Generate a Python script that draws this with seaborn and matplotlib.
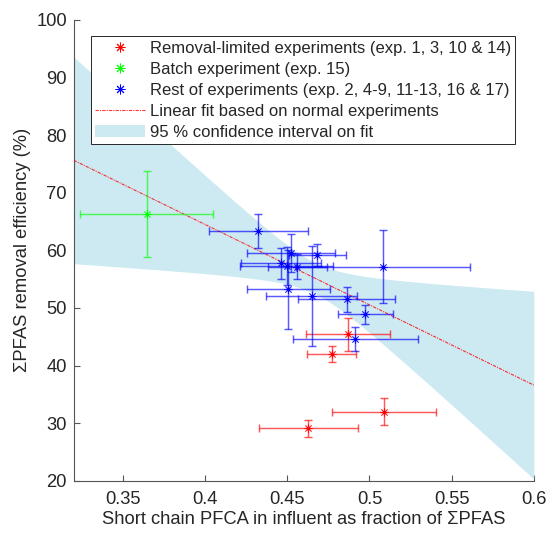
import numpy as np
import pandas as pd
import seaborn as sns
import matplotlib
matplotlib.use("Agg")
import matplotlib.pyplot as plt
from matplotlib.lines import Line2D
from matplotlib.patches import Patch

# Removal-limited experiments (exp. 1, 3, 10 & 14)
red_x = [0.4868, 0.4770, 0.5090, 0.4628]
red_y = [45.42, 41.95, 31.99, 29.10]
red_xerr = [0.0257, 0.0148, 0.0317, 0.0302]
red_yerr = [2.92, 1.36, 2.32, 1.45]

# Batch experiment (exp. 15)
green_x = [0.3644]
green_y = [66.31]
green_xerr = [0.0403]
green_yerr = [7.4]

# Rest of experiments (exp. 2, 4-9, 11-13, 16 & 17)
blue_x = [0.4324, 0.4523, 0.4683, 0.4462, 0.4496, 0.4561,
          0.4506, 0.4649, 0.4862, 0.5081, 0.4975, 0.4914]
blue_y = [63.36, 59.49, 59.19, 57.75, 57.34, 57.17,
          53.24, 52.07, 51.50, 57.17, 48.89, 44.61]
blue_xerr = [0.030, 0.027, 0.0175, 0.0245, 0.0284, 0.018,
             0.0254, 0.0277, 0.0294, 0.0528, 0.0167, 0.038]
blue_yerr = [3.0, 3.3, 1.9, 2.7, 3.3, 2.2,
             6.9, 8.7, 2.2, 6.3, 1.7, 2.0]

legend_labels = [
    "Removal-limited experiments (exp. 1, 3, 10 & 14)",
    "Batch experiment (exp. 15)",
    "Rest of experiments (exp. 2, 4-9, 11-13, 16 & 17)",
    "Linear fit based on normal experiments",
    "95 % confidence interval on fit",
]
x_ticks = [0.35, 0.4, 0.45, 0.5, 0.55, 0.6]
x_ticklabels = ["0.35", "0.4", "0.45", "0.5", "0.55", "0.6"]
y_ticks = [20, 30, 40, 50, 60, 70, 80, 90, 100]

sns.set_style("ticks")
plt.rcParams["font.family"] = ["Liberation Sans", "DejaVu Sans"]

RED = (1.0, 0.0, 0.0)
GREEN = (0.0, 1.0, 0.0)
BLUE = (0.0, 0.0, 1.0)
BAND = "#cde9f1"
AXCOL = "#555555"
TXT = "#262626"
STAR = (8, 2, 0)
FS = 13.2
LEG_FS = 12.0

fig = plt.figure(figsize=(5.48, 5.33), dpi=100)
ax = fig.add_axes([0.1345, 0.0981, 0.974 - 0.1345, 0.9625 - 0.0981])

# Least-squares line through the normal experiments and its 95 % confidence band
bx = np.asarray(blue_x)
by = np.asarray(blue_y)
n = len(bx)
slope, intercept = np.polyfit(bx, by, 1)
resid = by - (slope * bx + intercept)
s = np.sqrt(np.sum(resid ** 2) / (n - 2))
sxx = np.sum((bx - bx.mean()) ** 2)
t_crit = 2.2281  # two-sided 95 % Student t quantile, n - 2 = 10 degrees of freedom
xx = np.linspace(0.32, 0.6, 300)
yy = slope * xx + intercept
half = t_crit * s * np.sqrt(1.0 / n + (xx - bx.mean()) ** 2 / sxx)
ax.fill_between(xx, yy - half, yy + half, color=BAND, lw=0, zorder=1)

fit_df = pd.DataFrame({"x": xx, "y": yy})
sns.lineplot(data=fit_df, x="x", y="y", ax=ax, color=RED, lw=0.8,
             linestyle=(0, (3, 1, 1, 1)), alpha=0.8, zorder=3)

def draw_group(xs, ys, xe, ye, col):
    ax.errorbar(xs, ys, xerr=xe, yerr=ye, fmt="none", ecolor=col,
                elinewidth=1.05, capsize=3.0, capthick=1.05, alpha=0.65, zorder=4)
    df = pd.DataFrame({"x": xs, "y": ys})
    sns.scatterplot(data=df, x="x", y="y", ax=ax, marker=STAR, s=32,
                    color=col, edgecolor=col, linewidth=0.6, alpha=0.8, zorder=5)
    ax.plot(xs, ys, ".", color=col, ms=3.5, zorder=6)

draw_group(red_x, red_y, red_xerr, red_yerr, RED)
draw_group(green_x, green_y, green_xerr, green_yerr, GREEN)
draw_group(blue_x, blue_y, blue_xerr, blue_yerr, BLUE)

ax.set_xlim(0.32, 0.6)
ax.set_ylim(20, 100)
ax.set_xticks(x_ticks)
ax.set_xticklabels(x_ticklabels)
ax.set_yticks(y_ticks)
ax.tick_params(direction="in", length=4, width=0.8, colors=AXCOL,
               labelcolor=TXT, labelsize=FS)
ax.tick_params(axis="x", pad=7.5)
ax.tick_params(axis="y", pad=5)
for side in ("top", "right"):
    ax.spines[side].set_visible(False)
for side in ("left", "bottom"):
    ax.spines[side].set_color(AXCOL)
    ax.spines[side].set_linewidth(0.8)

ax.set_xlabel("Short chain PFCA in influent as fraction of \u03a3PFAS",
              fontsize=FS, color=TXT, labelpad=2)
ax.set_ylabel("\u03a3PFAS removal efficiency (%)",
              fontsize=FS, color=TXT, labelpad=3.5)

handles = [
    Line2D([], [], ls="none", marker=STAR, color=RED, ms=7, mew=0.7),
    Line2D([], [], ls="none", marker=STAR, color=GREEN, ms=7, mew=0.7),
    Line2D([], [], ls="none", marker=STAR, color=BLUE, ms=7, mew=0.7),
    Line2D([], [], color=RED, lw=0.8, linestyle=(0, (3, 1, 1, 1)), alpha=0.8),
    Patch(facecolor=BAND, edgecolor="none"),
]
leg = ax.legend(handles, legend_labels, loc="upper left",
                bbox_to_anchor=(0.037, 0.965), borderaxespad=0,
                fontsize=LEG_FS, frameon=True, fancybox=False, framealpha=1,
                edgecolor=TXT, handlelength=3.0, handletextpad=0.25,
                labelspacing=0.36, borderpad=0.28)
leg.get_frame().set_linewidth(0.7)

fig.savefig("out.png", dpi=100)
